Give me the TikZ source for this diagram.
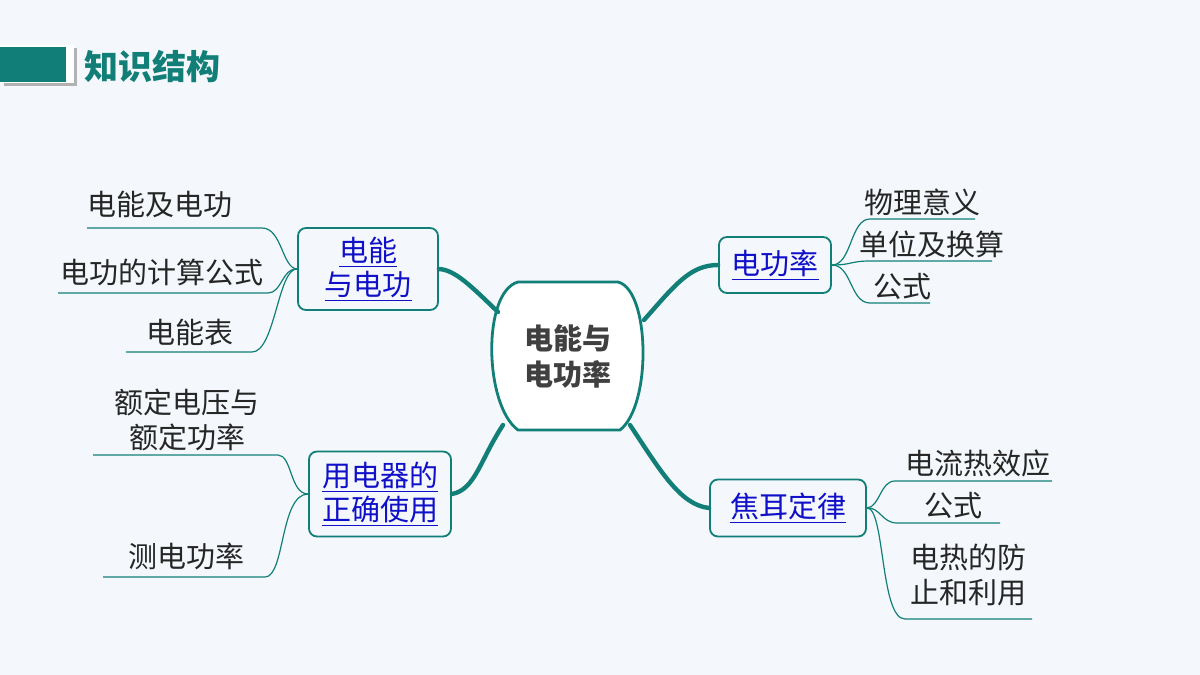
\documentclass[tikz,border=0pt]{standalone}
\usepackage{fontspec}
\setmainfont{Noto Sans CJK SC}
\usetikzlibrary{positioning}
\definecolor{bg}{HTML}{F4F8FC}
\definecolor{teal0}{HTML}{117F78}
\definecolor{link}{HTML}{1010C8}
\definecolor{ink}{HTML}{262626}

\tikzset{
  topic/.style={draw=teal0,line width=0.9pt,rounded corners=4pt,fill=bg,align=center,
    text=link,font=\fontsize{14.5}{17}\selectfont,inner sep=0pt},
  leaf/.style={text=ink,align=center,font=\fontsize{14.5}{17.5}\selectfont,inner sep=0pt},
  twig/.style={draw=teal0,line width=0.6pt},
  branch/.style={draw=teal0,line width=2.2pt,line cap=round}
}
\newcommand{\ul}[1]{\underline{#1}}

\begin{document}
\begin{tikzpicture}[x=0.5pt,y=-0.5pt]

\useasboundingbox[fill=bg] (0,0) rectangle (1200,675);

% title
\fill[black!30] (4,48) rectangle (77,86);
\fill[white] (0,45) rectangle (74,83);
\fill[teal0] (0,47) rectangle (66,82);
\node[text=teal0,font=\fontsize{17}{19}\selectfont\bfseries,anchor=west,inner sep=0pt] (title) at (84,67) {知识结构};

% centre
\draw[teal0,line width=1.4pt,fill=white] (518,282) -- (618,282)
  .. controls (650,290) and (652,405) .. (620,430) -- (518,430)
  .. controls (484,405) and (482,292) .. (518,282) -- cycle;
\node[text=black!75,font=\fontsize{14.5}{18}\selectfont\bfseries,align=center,inner sep=0pt] (core) at (568,356) {电能与\\电功率};
\coordinate (cNW) at (498,312);
\coordinate (cNE) at (644,320);
\coordinate (cSW) at (503,425);
\coordinate (cSE) at (630,425);

% topic boxes
\node[topic,minimum width=70,minimum height=41] (work) at (368,269) {\ul{电能}\\\ul{与电功}};
\node[topic,minimum width=56,minimum height=28] (power) at (775,265) {\ul{电功率}};
\node[topic,minimum width=71,minimum height=42.5] (use) at (380,494) {\ul{用电器的}\\\ul{正确使用}};
\node[topic,minimum width=78,minimum height=28.5] (joule) at (788,508) {\ul{焦耳定律}};

% branches
\draw[branch] (cNW) .. controls (470,285) and (455,270) .. (work.east);
\draw[branch] (cNE) .. controls (675,285) and (690,265) .. (power.west);
\draw[branch] (cSW) .. controls (480,460) and (475,490) .. (use.east);
\draw[branch] (cSE) .. controls (660,470) and (680,505) .. (joule.west);

% leaves of work
\node[leaf] (w1) at (160,204) {电能及电功};
\node[leaf] (w2) at (162,272) {电功的计算公式};
\node[leaf] (w3) at (190,332) {电能表};
\coordinate (w1r) at (262,228); \coordinate (w1l) at (87,228);
\coordinate (w2r) at (268,293); \coordinate (w2l) at (58,293);
\coordinate (w3r) at (252,352); \coordinate (w3l) at (126,352);
\draw[twig] (work.west) .. controls (282,268) and (282,228) .. (w1r) -- (w1l);
\draw[twig] (work.west) .. controls (282,268) and (282,293) .. (w2r) -- (w2l);
\draw[twig] (work.west) .. controls (278,268) and (275,352) .. (w3r) -- (w3l);

% leaves of power
\node[leaf] (p1) at (922,202) {物理意义};
\node[leaf] (p2) at (932,244) {单位及换算};
\node[leaf] (p3) at (902,287) {公式};
\coordinate (p1l) at (870,219); \coordinate (p1r) at (975,219);
\coordinate (p2l) at (870,261); \coordinate (p2r) at (992,261);
\coordinate (p3l) at (870,303); \coordinate (p3r) at (930,303);
\draw[twig] (power.east) .. controls (852,265) and (850,219) .. (p1l) -- (p1r);
\draw[twig] (power.east) .. controls (852,265) and (850,261) .. (p2l) -- (p2r);
\draw[twig] (power.east) .. controls (852,265) and (850,303) .. (p3l) -- (p3r);

% leaves of use
\node[leaf] (u1) at (187,420) {额定电压与\\额定功率};
\node[leaf] (u2) at (186,556) {测电功率};
\coordinate (u1r) at (278,455); \coordinate (u1l) at (93,455);
\coordinate (u2r) at (265,577); \coordinate (u2l) at (103,577);
\draw[twig] (use.west) .. controls (290,494) and (292,455) .. (u1r) -- (u1l);
\draw[twig] (use.west) .. controls (280,494) and (285,577) .. (u2r) -- (u2l);

% leaves of joule
\node[leaf] (j1) at (978,463) {电流热效应};
\node[leaf] (j2) at (953,506) {公式};
\node[leaf] (j3) at (968,575) {电热的防\\止和利用};
\coordinate (j1l) at (895,481); \coordinate (j1r) at (1052,481);
\coordinate (j2l) at (897,523); \coordinate (j2r) at (1000,523);
\coordinate (j3l) at (905,619); \coordinate (j3r) at (1032,619);
\draw[twig] (joule.east) .. controls (880,507) and (880,481) .. (j1l) -- (j1r);
\draw[twig] (joule.east) .. controls (880,507) and (882,523) .. (j2l) -- (j2r);
\draw[twig] (joule.east) .. controls (885,507) and (880,619) .. (j3l) -- (j3r);

\end{tikzpicture}
\end{document}
